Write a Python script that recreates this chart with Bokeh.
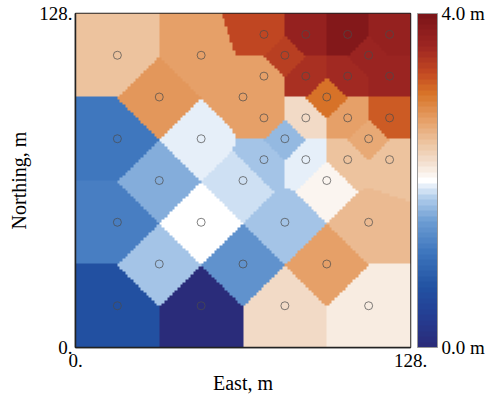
import numpy as np
from bokeh.plotting import figure
from bokeh.models import (LinearColorMapper, ColorBar, FixedTicker, Range1d,
                          PrintfTickFormatter)
from bokeh.embed import file_html
from bokeh.resources import INLINE

# Sample locations (m) and measured depth (m)
east = [72, 88, 104, 120,
        16, 48, 80, 112,
        72, 88, 104, 120,
        32, 64, 96,
        72, 88, 104, 120,
        16, 48, 80, 112,
        72, 88, 104, 120,
        32, 64, 96,
        16, 48, 80, 112,
        32, 64, 96,
        16, 48, 80, 112]
north = [120, 120, 120, 120,
         112, 112, 112, 112,
         104, 104, 104, 104,
         96, 96, 96,
         88, 88, 88, 88,
         80, 80, 80, 80,
         72, 72, 72, 72,
         64, 64, 64,
         48, 48, 48, 48,
         32, 32, 32,
         16, 16, 16, 16]
depth = [3.28, 3.72, 3.92, 3.70,
         2.48, 2.70, 3.40, 3.64,
         2.70, 3.52, 3.60, 3.66,
         2.80, 2.70, 3.08,
         2.70, 2.28, 2.72, 3.20,
         1.14, 1.92, 1.64, 2.68,
         1.76, 1.94, 2.48, 2.48,
         1.60, 1.84, 2.04,
         1.20, 2.00, 1.76, 2.52,
         1.76, 1.44, 2.70,
         0.72, 0.02, 2.24, 2.12]

x_ticks = [0, 128]
x_tick_labels = ["0.", "128."]
bar_ticks = [0.0, 4.0]

# Temperature-style diverging gradient, sampled into discrete bands
stop_pos = [0.00, 0.10, 0.18, 0.28, 0.38, 0.45, 0.50, 0.55, 0.62, 0.68,
            0.76, 0.82, 0.90, 1.00]
stop_hex = ["#2b2a78", "#243f94", "#2252a2", "#3c74bc", "#6e9ed4",
            "#b4cfec", "#ffffff", "#f4e2d2", "#ecc09a", "#e6a068",
            "#d87428", "#c44a22", "#9e2622", "#7a1418"]


def hex_to_rgb(h):
    return [int(h[i:i + 2], 16) for i in (1, 3, 5)]


stop_rgb = np.array([hex_to_rgb(h) for h in stop_hex], dtype=float)
n_bands = 61
t = (np.arange(n_bands) + 0.5) / n_bands
palette = []
for ti in t:
    r, g, b = (np.interp(ti, stop_pos, stop_rgb[:, k]) for k in range(3))
    palette.append("#%02x%02x%02x" % (int(round(r)), int(round(g)), int(round(b))))

mapper = LinearColorMapper(palette=palette, low=0.0, high=4.0)

# Nearest-sample surface on a 1 m grid
ex = np.array(east, dtype=float)
no = np.array(north, dtype=float)
dv = np.array(depth, dtype=float)
gc = np.arange(128) + 0.5
GX, GY = np.meshgrid(gc, gc)
d2 = (GX[..., None] - ex) ** 2 + (GY[..., None] - no) ** 2
surface = dv[np.argmin(d2, axis=-1)]

p = figure(width=488, height=396, output_backend="svg", toolbar_location=None,
           x_range=Range1d(0, 128), y_range=Range1d(0, 128),
           min_border_left=75, min_border_right=78, min_border_top=13,
           min_border_bottom=48)
p.grid.visible = False
p.background_fill_color = "white"
p.outline_line_color = "#222222"
p.outline_line_width = 1.5

p.image(image=[surface], x=0, y=0, dw=128, dh=128, color_mapper=mapper)
p.scatter(east, north, size=8, marker="circle", fill_color=None,
          line_color="#4a4a4a", line_width=0.7)

for ax in (p.xaxis[0], p.yaxis[0]):
    ax.ticker = FixedTicker(ticks=x_ticks)
    ax.major_label_overrides = dict(zip(x_ticks, x_tick_labels))
    ax.major_tick_in = 0
    ax.major_tick_out = 0
    ax.minor_tick_line_color = None
    ax.axis_line_color = "#222222"
    ax.axis_line_width = 1.5
    ax.major_label_text_font = "Liberation Serif"
    ax.major_label_text_font_size = "19px"
    ax.major_label_text_color = "black"
    ax.axis_label_text_font = "Liberation Serif"
    ax.axis_label_text_font_size = "20px"
    ax.axis_label_text_font_style = "normal"
    ax.axis_label_text_color = "black"

p.xaxis.axis_label = "East, m"
p.yaxis.axis_label = "Northing, m"
p.xaxis.major_label_standoff = 6
p.yaxis.major_label_standoff = 3
p.xaxis.axis_label_standoff = 2
p.yaxis.axis_label_standoff = 6

cbar = ColorBar(color_mapper=mapper, ticker=FixedTicker(ticks=bar_ticks),
                formatter=PrintfTickFormatter(format="%.1f m"),
                width=20, height=334, location=(7, 0), margin=0, padding=0,
                label_standoff=4, major_tick_line_color=None,
                bar_line_color="#999999", border_line_color=None,
                background_fill_color=None,
                major_label_text_font="Liberation Serif",
                major_label_text_font_size="19px",
                major_label_text_color="black")
p.add_layout(cbar, "right")

open("out.html", "w").write(file_html(p, INLINE))
